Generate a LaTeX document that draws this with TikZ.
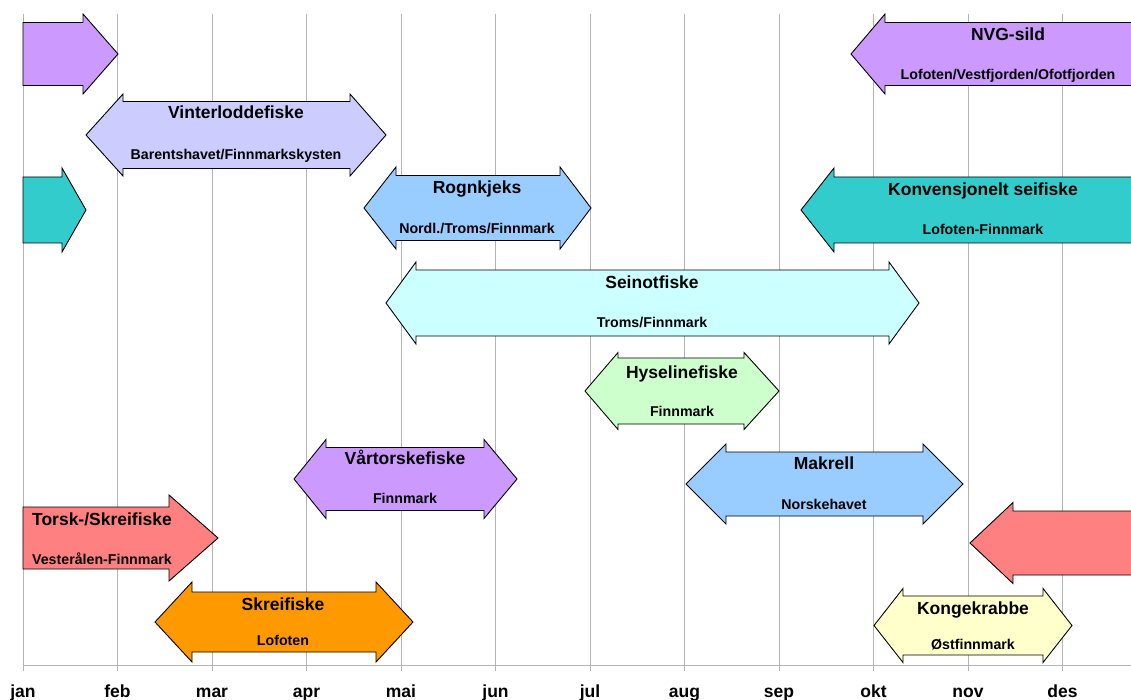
\documentclass[tikz,border=0pt]{standalone}
\usepackage{fontspec}
\setmainfont{Liberation Sans}
\definecolor{purp}{HTML}{CC99FF}
\definecolor{lav}{HTML}{CCCCFF}
\definecolor{tealc}{HTML}{33CCCC}
\definecolor{lblue}{HTML}{99CCFF}
\definecolor{lcyan}{HTML}{CCFFFF}
\definecolor{lgreen}{HTML}{CCFFCC}
\definecolor{redc}{HTML}{FF8080}
\definecolor{orangec}{HTML}{FF9900}
\definecolor{lyellow}{HTML}{FFFFCC}
\definecolor{gridc}{HTML}{B4B4B4}
\newcommand\dblarr[8]{%
  \filldraw[arrowshape, fill=#1] (#2,#6) -- (#3,#6-#8) -- (#3,#6-#7) -- (#4,#6-#7) -- (#4,#6-#8) -- (#5,#6) -- (#4,#6+#8) -- (#4,#6+#7) -- (#3,#6+#7) -- (#3,#6+#8) -- cycle;}
\newcommand\rarr[7]{%
  \filldraw[arrowshape, fill=#1] (#2,#5-#6) -- (#3,#5-#6) -- (#3,#5-#7) -- (#4,#5) -- (#3,#5+#7) -- (#3,#5+#6) -- (#2,#5+#6) -- cycle;}
\newcommand\larr[7]{%
  \filldraw[arrowshape, fill=#1] (#2,#5) -- (#3,#5-#7) -- (#3,#5-#6) -- (#4,#5-#6) -- (#4,#5+#6) -- (#3,#5+#6) -- (#3,#5+#7) -- cycle;}
\begin{document}
\begin{tikzpicture}[x=1pt,y=-1pt,
  arrowshape/.style={draw=black, line width=0.9pt, line join=miter},
  gridline/.style={draw=gridc, line width=1pt},
  ttl/.style={anchor=base, inner sep=0pt, font=\bfseries\fontsize{17.5}{20}\selectfont},
  sub/.style={anchor=base, inner sep=0pt, font=\bfseries\fontsize{14.2}{17}\selectfont},
  mon/.style={anchor=base, inner sep=0pt, font=\bfseries\fontsize{17.5}{20}\selectfont}]
\useasboundingbox (0,0) rectangle (1131,700);
\clip (0,0) rectangle (1131,700);
\fill[white] (0,0) rectangle (1131,700);
% grid
\foreach \i/\m in {0/jan,1/feb,2/mar,3/apr,4/mai,5/jun,6/jul,7/aug,8/sep,9/okt,10/nov,11/des}{
  \draw[gridline] (23+94.5*\i,14) -- (23+94.5*\i,671);
  \node[mon] (m\i) at (23+94.5*\i,697) {\m};
}
\draw[gridline] (23,665) -- (1131,665);
% arrows
\rarr{purp}{23}{83}{118}{54}{31.5}{40}
\rarr{tealc}{23}{62}{86}{210}{33}{42}
\rarr{redc}{23}{169}{218}{538}{31}{43}
\larr{purp}{851}{885}{1145}{54}{31.5}{40}
\larr{tealc}{801}{834}{1145}{210}{33}{42}
\larr{redc}{970}{1013}{1145}{543}{32}{40.5}
\dblarr{lav}{86}{123}{350}{386}{135}{33.5}{41}
\dblarr{lblue}{364}{396}{560}{591}{208}{32.5}{41}
\dblarr{lcyan}{386}{416}{889}{919}{303}{33}{41}
\dblarr{lgreen}{585}{618}{744}{779}{391}{33}{38.5}
\dblarr{purp}{294}{326}{484}{517}{479}{31.5}{39.5}
\dblarr{lblue}{686}{726}{923}{963}{484}{32}{40}
\dblarr{orangec}{155}{192}{376}{413}{622}{30}{40}
\dblarr{lyellow}{874}{903}{1043}{1072}{625.5}{29.5}{37}
% labels
\node[ttl] (t1) at (236,119) {Vinterloddefiske};
\node[sub] (s1) at (236,159.5) {Barentshavet/Finnmarkskysten};
\node[ttl] (t2) at (1008,41) {NVG-sild};
\node[sub] (s2) at (1008,79.5) {Lofoten/Vestfjorden/Ofotfjorden};
\node[ttl] (t3) at (477,194) {Rognkjeks};
\node[sub] (s3) at (477,233.5) {Nordl./Troms/Finnmark};
\node[ttl] (t4) at (983,196) {Konvensjonelt seifiske};
\node[sub] (s4) at (983,234.5) {Lofoten-Finnmark};
\node[ttl] (t5) at (652,288) {Seinotfiske};
\node[sub] (s5) at (652,327.5) {Troms/Finnmark};
\node[ttl] (t6) at (682,378) {Hyselinefiske};
\node[sub] (s6) at (682,416.5) {Finnmark};
\node[ttl] (t7) at (405,464) {Vårtorskefiske};
\node[sub] (s7) at (405,503.5) {Finnmark};
\node[ttl] (t8) at (824,469) {Makrell};
\node[sub] (s8) at (824,509.5) {Norskehavet};
\node[ttl] (t9) at (102,525) {Torsk-/Skreifiske};
\node[sub] (s9) at (102,564.5) {Vesterålen-Finnmark};
\node[ttl] (t10) at (283,610) {Skreifiske};
\node[sub] (s10) at (283,645.5) {Lofoten};
\node[ttl] (t11) at (973,614) {Kongekrabbe};
\node[sub] (s11) at (973,649.5) {Østfinnmark};
\end{tikzpicture}
\end{document}
